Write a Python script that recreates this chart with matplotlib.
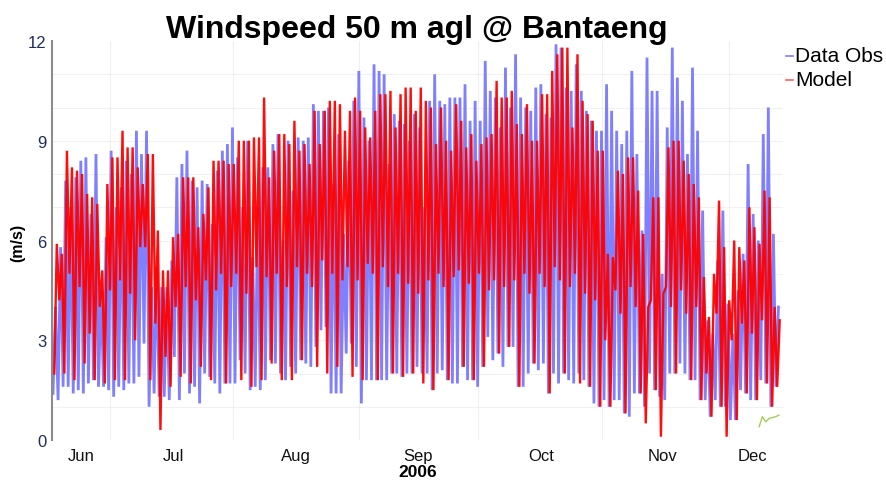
import numpy as np
import pandas as pd
import matplotlib
matplotlib.use("Agg")
import matplotlib.pyplot as plt
from matplotlib.lines import Line2D

plt.rcParams['font.family'] = ['Liberation Sans', 'DejaVu Sans']

# 30 h bins: high / low of the hourly wind speed (m/s)
obs_hi = [4.0, 5.8, 7.8, 7.0, 7.9, 8.4, 8.5, 6.8, 8.6, 4.5, 6.1, 8.7, 7.0, 7.6, 8.4, 8.0, 9.3, 8.6,
          9.3, 4.6, 5.2, 4.6, 4.6, 5.4, 7.9, 8.3, 8.7, 7.8, 7.6, 7.8, 7.7, 6.5, 8.1, 8.7, 8.9, 9.4, 8.5,
          7.0, 9.0, 5.5, 7.0, 8.2, 8.2, 8.9, 9.2, 6.0, 9.0, 7.5, 9.1, 9.0, 9.1, 10.1, 9.9, 9.9, 10.0,
          7.7, 9.2, 6.2, 8.4, 10.2, 11.1, 9.7, 9.0, 11.3, 11.1, 11.0, 8.3, 9.8, 9.6, 9.5, 9.0, 9.8, 9.4,
          7.0, 10.2, 11.0, 10.2, 10.1, 10.3, 10.3, 10.3, 10.7, 9.6, 10.2, 9.6, 11.4, 10.5, 10.3, 9.4, 11.2, 10.0,
          11.6, 10.3, 10.0, 9.9, 10.6, 10.7, 9.8, 9.7, 11.9, 11.8, 10.6, 10.5, 11.3, 10.5, 9.9, 9.6, 9.3, 9.3,
          10.7, 9.9, 9.3, 8.9, 9.3, 11.1, 8.6, 6.3, 11.5, 10.5, 10.5, 5.0, 9.4, 11.8, 10.9, 10.2, 8.6, 11.2,
          9.3, 6.9, 3.6, 3.2, 5.4, 6.9, 4.1, 3.2, 4.5, 5.6, 8.3, 6.8, 6.0, 9.2, 10.0, 6.2, 4.0]
obs_lo = [1.4, 1.2, 1.6, 1.6, 1.4, 1.5, 1.4, 1.7, 1.8, 1.6, 1.6, 1.5, 1.3, 1.6, 1.5, 1.7, 1.7, 1.9,
          2.9, 1.0, 1.4, 1.3, 1.3, 1.2, 2.5, 1.2, 2.0, 1.4, 1.6, 1.1, 2.0, 1.9, 1.7, 1.4, 1.7, 1.7, 1.7,
          2.4, 2.0, 1.5, 1.6, 1.5, 1.8, 2.4, 2.3, 2.0, 1.8, 2.2, 2.0, 2.4, 2.3, 2.2, 2.8, 3.3, 3.4,
          1.4, 1.4, 1.4, 2.6, 2.9, 2.2, 1.1, 1.8, 1.8, 1.8, 1.8, 1.8, 2.0, 2.0, 1.9, 2.0, 2.0, 2.2,
          2.0, 2.0, 1.5, 2.0, 2.1, 1.8, 1.7, 1.7, 2.2, 1.8, 1.8, 1.6, 2.2, 3.1, 2.4, 2.6, 2.2, 2.8,
          2.8, 1.6, 1.6, 2.0, 2.3, 2.1, 2.3, 1.4, 2.0, 1.7, 2.0, 1.8, 1.7, 2.0, 1.8, 1.6, 1.1, 1.0,
          1.2, 1.0, 1.2, 1.2, 0.8, 0.7, 1.4, 1.4, 1.0, 2.0, 1.5, 1.3, 1.2, 2.0, 2.0, 2.3, 2.0, 1.8,
          1.8, 1.2, 1.2, 0.7, 1.2, 1.0, 1.0, 0.6, 0.6, 1.5, 1.4, 1.2, 1.2, 1.8, 1.7, 1.0, 1.6]
mod_hi = [5.9, 5.6, 8.7, 8.2, 8.1, 8.0, 7.4, 7.3, 7.1, 5.1, 7.7, 8.5, 8.5, 9.3, 8.8, 8.8, 8.2, 7.7,
          8.6, 8.6, 6.3, 5.1, 5.1, 6.1, 6.2, 7.9, 7.9, 7.9, 6.4, 6.8, 7.6, 8.4, 8.4, 8.4, 8.3, 8.3, 9.0,
          9.0, 9.0, 9.1, 9.1, 10.3, 7.9, 8.7, 9.2, 9.2, 8.9, 9.6, 8.7, 8.9, 8.3, 9.9, 8.9, 9.9, 10.2,
          10.2, 10.1, 9.3, 9.9, 10.3, 9.9, 9.4, 9.1, 9.9, 10.4, 10.4, 10.5, 9.4, 10.4, 10.6, 10.6, 9.9, 10.6,
          10.2, 10.0, 8.9, 10.0, 9.0, 8.7, 10.1, 9.6, 8.8, 9.2, 8.4, 8.9, 9.1, 9.2, 10.8, 10.3, 10.3, 10.5,
          9.5, 9.2, 10.1, 9.0, 9.0, 10.4, 10.4, 11.1, 11.6, 11.8, 11.8, 9.4, 11.6, 10.2, 9.8, 9.6, 8.7, 8.7,
          5.6, 5.5, 8.1, 8.0, 8.5, 8.5, 7.5, 6.2, 4.0, 7.3, 7.3, 4.4, 8.8, 9.0, 9.0, 8.4, 8.0, 7.7,
          7.3, 4.9, 3.7, 5.0, 7.2, 5.8, 4.2, 6.0, 5.8, 5.4, 7.0, 6.4, 5.9, 7.5, 7.3, 4.0, 3.6]
mod_lo = [2.0, 4.2, 2.0, 5.0, 1.8, 4.6, 2.3, 3.2, 1.8, 4.0, 1.7, 4.5, 1.8, 4.8, 1.8, 4.4, 3.0, 5.8,
          5.8, 1.8, 3.5, 0.3, 2.5, 1.6, 4.0, 1.9, 4.6, 1.7, 4.2, 2.2, 4.8, 1.8, 4.5, 5.0, 1.7, 4.6, 5.0,
          1.8, 4.4, 1.6, 5.2, 1.8, 4.9, 2.3, 5.0, 1.8, 4.6, 1.8, 5.2, 2.4, 5.0, 4.6, 2.2, 5.4, 2.0,
          5.0, 2.2, 4.8, 5.2, 1.9, 4.8, 1.8, 5.3, 5.0, 1.8, 5.2, 4.6, 2.0, 5.0, 1.9, 4.7, 2.0, 4.4,
          1.7, 4.8, 1.5, 5.0, 4.6, 1.8, 4.9, 5.1, 2.2, 4.7, 1.8, 5.0, 2.2, 4.5, 4.8, 2.6, 4.6, 2.8,
          4.8, 1.6, 5.0, 4.4, 2.3, 5.0, 4.6, 1.4, 5.2, 4.8, 2.0, 4.6, 5.0, 1.7, 4.4, 1.6, 4.2, 1.0,
          3.0, 1.0, 4.5, 3.8, 0.8, 4.6, 4.0, 1.4, 0.5, 4.2, 1.5, 0.1, 4.6, 4.0, 2.0, 4.5, 3.8, 1.8,
          4.0, 1.2, 2.0, 0.7, 3.8, 1.0, 0.1, 3.0, 0.6, 3.5, 1.4, 3.2, 1.2, 3.6, 1.7, 1.0, 1.6]

# short third trace near the end (days since 1 Jun)
extra_days = [174.6, 175.4, 176.2, 177.1, 178.7, 179.5]
extra_vals = [0.40, 0.70, 0.55, 0.65, 0.70, 0.75]

month_labels = ['Jun', 'Jul', 'Aug', 'Sep', 'Oct', 'Nov', 'Dec']
month_pos = [6.9, 29.8, 60.1, 90.3, 120.7, 150.7, 173.0]
vgrid_pos = [14.1, 44.5, 75.7, 105.1, 135.8, 167.2]

start = pd.Timestamp('2006-06-01')

def zigzag(lo, hi, offset_h=0.0):
    vals = np.column_stack([lo, hi]).ravel()
    t = start + pd.to_timedelta(offset_h, 'h') + pd.to_timedelta(np.arange(len(vals)) * 15, 'h')
    return t, vals

def day(d):
    return start + pd.to_timedelta(d, 'D')

fig = plt.figure(figsize=(8.87, 4.81), dpi=100)
ax = fig.add_axes([52 / 887, 1 - 441 / 481, 731 / 887, 399 / 481])

for v in range(1, 12):
    ax.axhline(v, color='#f1f1f1', lw=0.8, zorder=0)
for d in vgrid_pos:
    ax.axvline(day(d), color='#efefef', lw=0.8, zorder=0)

t_obs, v_obs = zigzag(obs_lo, obs_hi)
t_mod, v_mod = zigzag(mod_lo, mod_hi, offset_h=7.5)
ax.plot(t_obs, v_obs, color='#8080ff', lw=2.0, zorder=2, solid_joinstyle='miter')
ax.plot(t_mod, v_mod, color='#ff0000', lw=1.7, alpha=0.95, zorder=3, solid_joinstyle='miter')
ax.plot([day(d) for d in extra_days], extra_vals, color='#a8cc55', lw=1.0, zorder=4)

ax.set_ylim(0, 12)
ax.set_xlim(day(-0.25), day(180.5))
ax.set_yticks([0, 3, 6, 9, 12])
ax.set_yticklabels(['0', '3', '6', '9', '12'], fontsize=12, color='#1f2d5c')
ax.set_xticks([day(d) for d in month_pos])
ax.set_xticklabels(month_labels, fontsize=12, color='#111111')
ax.tick_params(axis='both', length=0)
ax.tick_params(axis='y', pad=4)
ax.tick_params(axis='x', pad=6)

for s in ['top', 'right', 'bottom']:
    ax.spines[s].set_visible(False)
ax.spines['left'].set_color('#8c8c8c')
ax.spines['left'].set_linewidth(1.5)

fig.text(417 / 887, 1 - 38 / 481, 'Windspeed 50 m agl @ Bantaeng', ha='center', va='baseline',
         fontsize=23, fontweight='bold')
fig.text(18 / 887, 1 - 243 / 481, '(m/s)', rotation=90, ha='center', va='center',
         fontsize=11.5, fontweight='bold')
fig.text(418 / 887, 1 - 473 / 481, '2006', ha='center', va='center', fontsize=12.5, fontweight='bold')

# legend drawn by hand at the top right
legend_items = [('Data Obs', '#7f7fff', 57), ('Model', '#ff6060', 81)]
for name, col, ypx in legend_items:
    fig.add_artist(Line2D([786 / 887, 793 / 887], [1 - ypx / 481] * 2, color=col, lw=1.2))
    fig.text(795 / 887, 1 - ypx / 481, name, ha='left', va='center', fontsize=15)

fig.savefig('out.png', dpi=100)
